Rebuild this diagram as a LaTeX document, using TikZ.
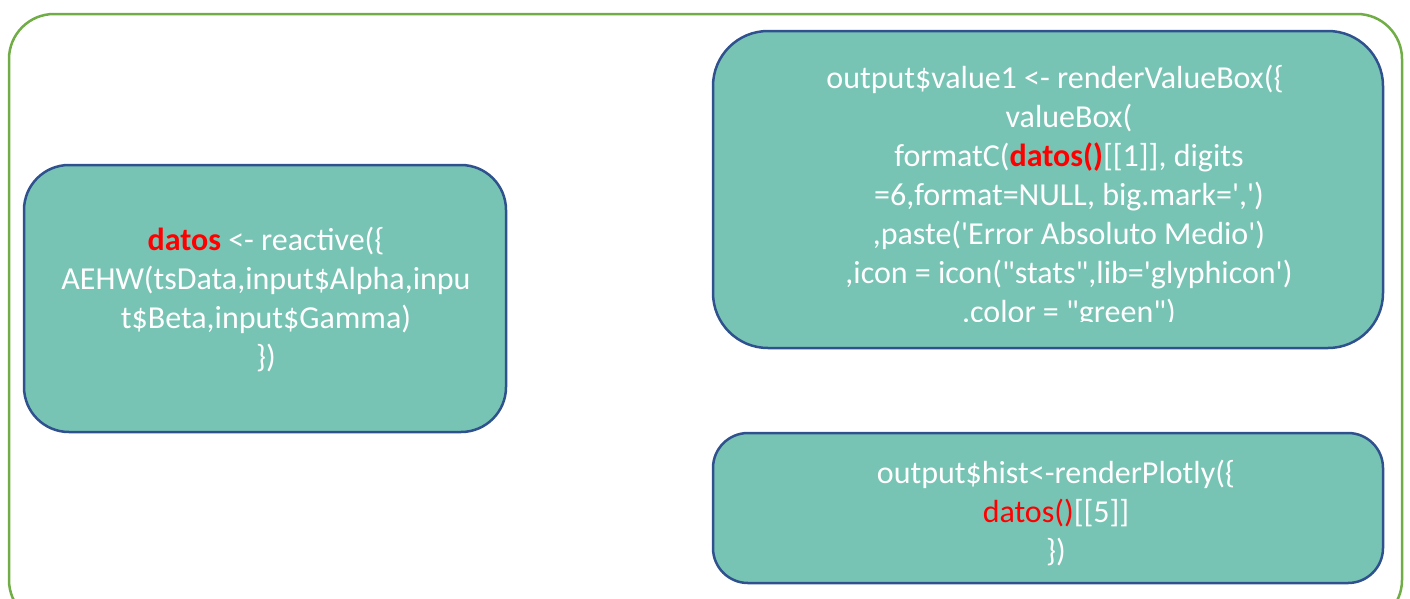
\documentclass[tikz,border=0pt]{standalone}
\usepackage{fontspec}
\setmainfont{Carlito}[Ligatures=TeXOff]
\definecolor{boxfill}{RGB}{120,196,180}
\definecolor{boxline}{RGB}{47,82,143}
\definecolor{frameline}{RGB}{112,173,71}
\newcommand{\dat}[1]{\textcolor{red}{#1}}
\tikzset{
  codebox/.style={draw=boxline, fill=boxfill, line width=2.5pt, inner sep=0pt},
  codetext/.style={text=white, align=center, inner sep=0pt, font=\fontsize{32}{39}\selectfont},
}
\begin{document}
\begin{tikzpicture}[x=1pt, y=-1pt]
	\useasboundingbox (0,0) rectangle (1410,598);
	\begin{scope}
	\clip (0,0) rectangle (1410,598);
	\draw[frameline, line width=2.5pt, rounded corners=45pt] (9,14) rectangle (1402,625);
	\end{scope}
	% reactive expression
	\node[codebox, rounded corners=45pt, minimum width=482pt, minimum height=267pt] (reactbox) at (265,298.5) {};
	\node[codetext] (reacttext) at (266,300) {\textbf{\dat{datos}} <- reactive(\{\\AEHW(tsData,input\$Alpha,inpu\\t\$Beta,input\$Gamma)\\\})};
	% value box
	\node[codebox, rounded corners=55pt, minimum width=670pt, minimum height=317pt] (valuebox) at (1048,189.5) {};
	\begin{scope}
	\clip (713,31) rectangle (1383,321);
	\node[codetext] (valuetext) at (1069,197) {output\$value1 <- renderValueBox(\{\hspace*{28pt}\\
		valueBox(\\
		formatC(\textbf{\dat{datos()}}[[1]], digits\\
		=6,format=NULL, big.mark=',')\hspace*{54pt}\\
		,paste('Error Absoluto Medio')\\
		,icon = icon("stats",lib='glyphicon')\\
		.color = "green")};
	\end{scope}
	% plot
	\node[codebox, rounded corners=35pt, minimum width=670pt, minimum height=150pt] (histbox) at (1048,508) {};
	\node[codetext] (histtext) at (1056,513) {output\$hist<-renderPlotly(\{\\\dat{datos()}[[5]]\\\})};
\end{tikzpicture}
\end{document}
